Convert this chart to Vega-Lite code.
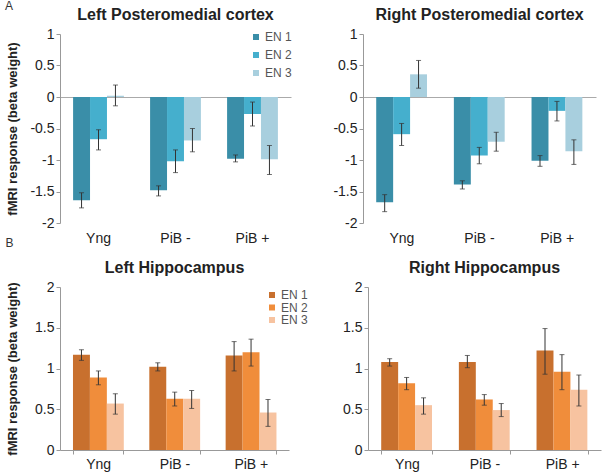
{
  "$schema": "https://vega.github.io/schema/vega-lite/v6.json",
  "padding": {"left": 5, "top": 0, "right": 4, "bottom": 2},
  "background": "white",
  "config": {
    "font": "Liberation Sans",
    "view": {"stroke": null},
    "title": {"fontSize": 16, "fontWeight": "bold", "color": "#222", "offset": 4},
    "axis": {"labelFontSize": 14, "labelColor": "#222", "domainColor": "#999", "tickColor": "#999", "grid": false, "titleFontSize": 13, "titleFontWeight": "bold", "titleColor": "#222", "labelOverlap": false},
    "legend": {"labelFontSize": 12, "labelColor": "#555", "symbolType": "square", "symbolSize": 36, "symbolStrokeWidth": 0, "labelOffset": 3, "title": null}
  },
  "data": {"values": [
    {"panel": "LP", "group": "Yng", "en": "EN 1", "value": -1.64, "lo": -1.76, "hi": -1.52},
    {"panel": "LP", "group": "Yng", "en": "EN 2", "value": -0.67, "lo": -0.84, "hi": -0.52},
    {"panel": "LP", "group": "Yng", "en": "EN 3", "value": 0.02, "lo": -0.14, "hi": 0.19},
    {"panel": "LP", "group": "PiB -", "en": "EN 1", "value": -1.48, "lo": -1.57, "hi": -1.41},
    {"panel": "LP", "group": "PiB -", "en": "EN 2", "value": -1.02, "lo": -1.2, "hi": -0.84},
    {"panel": "LP", "group": "PiB -", "en": "EN 3", "value": -0.69, "lo": -0.87, "hi": -0.5},
    {"panel": "LP", "group": "PiB +", "en": "EN 1", "value": -0.98, "lo": -1.03, "hi": -0.92},
    {"panel": "LP", "group": "PiB +", "en": "EN 2", "value": -0.27, "lo": -0.46, "hi": -0.08},
    {"panel": "LP", "group": "PiB +", "en": "EN 3", "value": -0.99, "lo": -1.23, "hi": -0.77},
    {"panel": "RP", "group": "Yng", "en": "EN 1", "value": -1.67, "lo": -1.82, "hi": -1.55},
    {"panel": "RP", "group": "Yng", "en": "EN 2", "value": -0.59, "lo": -0.77, "hi": -0.42},
    {"panel": "RP", "group": "Yng", "en": "EN 3", "value": 0.36, "lo": 0.14, "hi": 0.58},
    {"panel": "RP", "group": "PiB -", "en": "EN 1", "value": -1.39, "lo": -1.46, "hi": -1.33},
    {"panel": "RP", "group": "PiB -", "en": "EN 2", "value": -0.93, "lo": -1.06, "hi": -0.8},
    {"panel": "RP", "group": "PiB -", "en": "EN 3", "value": -0.71, "lo": -0.86, "hi": -0.56},
    {"panel": "RP", "group": "PiB +", "en": "EN 1", "value": -1.01, "lo": -1.1, "hi": -0.93},
    {"panel": "RP", "group": "PiB +", "en": "EN 2", "value": -0.22, "lo": -0.38, "hi": -0.07},
    {"panel": "RP", "group": "PiB +", "en": "EN 3", "value": -0.86, "lo": -1.07, "hi": -0.68},
    {"panel": "LH", "group": "Yng", "en": "EN 1", "value": 1.17, "lo": 1.1, "hi": 1.23},
    {"panel": "LH", "group": "Yng", "en": "EN 2", "value": 0.89, "lo": 0.8, "hi": 0.97},
    {"panel": "LH", "group": "Yng", "en": "EN 3", "value": 0.57, "lo": 0.44, "hi": 0.69},
    {"panel": "LH", "group": "PiB -", "en": "EN 1", "value": 1.02, "lo": 0.97, "hi": 1.07},
    {"panel": "LH", "group": "PiB -", "en": "EN 2", "value": 0.63, "lo": 0.54, "hi": 0.71},
    {"panel": "LH", "group": "PiB -", "en": "EN 3", "value": 0.63, "lo": 0.51, "hi": 0.73},
    {"panel": "LH", "group": "PiB +", "en": "EN 1", "value": 1.16, "lo": 0.97, "hi": 1.33},
    {"panel": "LH", "group": "PiB +", "en": "EN 2", "value": 1.2, "lo": 1.03, "hi": 1.36},
    {"panel": "LH", "group": "PiB +", "en": "EN 3", "value": 0.46, "lo": 0.29, "hi": 0.62},
    {"panel": "RH", "group": "Yng", "en": "EN 1", "value": 1.08, "lo": 1.03, "hi": 1.12},
    {"panel": "RH", "group": "Yng", "en": "EN 2", "value": 0.82, "lo": 0.74, "hi": 0.89},
    {"panel": "RH", "group": "Yng", "en": "EN 3", "value": 0.55, "lo": 0.44, "hi": 0.64},
    {"panel": "RH", "group": "PiB -", "en": "EN 1", "value": 1.08, "lo": 1.01, "hi": 1.16},
    {"panel": "RH", "group": "PiB -", "en": "EN 2", "value": 0.62, "lo": 0.55, "hi": 0.68},
    {"panel": "RH", "group": "PiB -", "en": "EN 3", "value": 0.49, "lo": 0.41, "hi": 0.57},
    {"panel": "RH", "group": "PiB +", "en": "EN 1", "value": 1.22, "lo": 0.93, "hi": 1.49},
    {"panel": "RH", "group": "PiB +", "en": "EN 2", "value": 0.96, "lo": 0.74, "hi": 1.17},
    {"panel": "RH", "group": "PiB +", "en": "EN 3", "value": 0.74, "lo": 0.54, "hi": 0.92}
  ]},
  "resolve": {"scale": {"color": "independent"}},
  "spacing": 12,
  "vconcat": [
    {
      "title": {"text": "A", "anchor": "start", "frame": "bounds", "fontSize": 12, "fontWeight": "normal", "color": "#333", "offset": -6},
      "spacing": 40,
      "resolve": {"scale": {"color": "independent"}},
      "hconcat": [
        {
          "width": 231, "height": 189,
          "title": "Left Posteromedial cortex",
          "transform": [{"filter": "datum.panel == 'LP'"}],
          "encoding": {
            "x": {"field": "group", "type": "nominal", "sort": ["Yng", "PiB -", "PiB +"], "scale": {"paddingInner": 0.34, "paddingOuter": 0.17}, "axis": {"title": "B", "titleX": -55, "titleY": 19, "titleAlign": "left", "titleBaseline": "middle", "titleFontWeight": "normal", "titleFontSize": 12, "titleColor": "#333", "labelAngle": 0, "domain": false, "ticks": false, "labelPadding": 8}},
            "xOffset": {"field": "en", "type": "nominal", "scale": {"paddingInner": 0, "paddingOuter": 0}}
          },
          "layer": [
            {"mark": {"type": "bar"}, "encoding": {
              "y": {"field": "value", "type": "quantitative", "scale": {"domain": [-2, 1], "nice": false}, "axis": {"title": "fMRI response (beta weight)", "titleX": -41, "tickCount": 7, "values": [-2, -1.5, -1, -0.5, 0, 0.5, 1], "labelExpr": "'' + datum.value", "tickSize": 4, "grid": true, "gridColor": "#aaa", "gridOpacity": {"condition": {"test": "datum.value == 0", "value": 1}, "value": 0}}},
              "color": {"field": "en", "type": "nominal", "scale": {"range": ["#3a8ea8", "#45afcd", "#a8cfde"]}, "legend": {"orient": "none", "legendX": 190, "legendY": -3, "rowPadding": 6}}
            }},
            {"mark": {"type": "rule", "color": "#333", "strokeWidth": 1}, "encoding": {"y": {"field": "lo", "type": "quantitative"}, "y2": {"field": "hi"}}},
            {"mark": {"type": "tick", "color": "#333", "thickness": 1, "size": 5}, "encoding": {"y": {"field": "lo", "type": "quantitative"}}},
            {"mark": {"type": "tick", "color": "#333", "thickness": 1, "size": 5}, "encoding": {"y": {"field": "hi", "type": "quantitative"}}}
          ]
        },
        {
          "width": 233, "height": 189,
          "title": "Right Posteromedial cortex",
          "transform": [{"filter": "datum.panel == 'RP'"}],
          "encoding": {
            "x": {"field": "group", "type": "nominal", "sort": ["Yng", "PiB -", "PiB +"], "scale": {"paddingInner": 0.34, "paddingOuter": 0.17}, "axis": {"title": null, "labelAngle": 0, "domain": false, "ticks": false, "labelPadding": 8}},
            "xOffset": {"field": "en", "type": "nominal", "scale": {"paddingInner": 0, "paddingOuter": 0}}
          },
          "layer": [
            {"mark": {"type": "bar"}, "encoding": {
              "y": {"field": "value", "type": "quantitative", "scale": {"domain": [-2, 1], "nice": false}, "axis": {"title": null, "tickCount": 7, "values": [-2, -1.5, -1, -0.5, 0, 0.5, 1], "labelExpr": "'' + datum.value", "tickSize": 4, "grid": true, "gridColor": "#aaa", "gridOpacity": {"condition": {"test": "datum.value == 0", "value": 1}, "value": 0}}},
              "color": {"field": "en", "type": "nominal", "scale": {"range": ["#3a8ea8", "#45afcd", "#a8cfde"]}, "legend": null}
            }},
            {"mark": {"type": "rule", "color": "#333", "strokeWidth": 1}, "encoding": {"y": {"field": "lo", "type": "quantitative"}, "y2": {"field": "hi"}}},
            {"mark": {"type": "tick", "color": "#333", "thickness": 1, "size": 5}, "encoding": {"y": {"field": "lo", "type": "quantitative"}}},
            {"mark": {"type": "tick", "color": "#333", "thickness": 1, "size": 5}, "encoding": {"y": {"field": "hi", "type": "quantitative"}}}
          ]
        }
      ]
    },
    {
      "spacing": 34,
      "resolve": {"scale": {"color": "independent"}},
      "hconcat": [
        {
          "width": 229, "height": 163,
          "title": "Left Hippocampus",
          "transform": [{"filter": "datum.panel == 'LH'"}],
          "encoding": {
            "x": {"field": "group", "type": "nominal", "sort": ["Yng", "PiB -", "PiB +"], "scale": {"paddingInner": 0.34, "paddingOuter": 0.17}, "axis": {"title": null, "labelAngle": 0, "tickBand": "extent", "tickSize": 4, "labelPadding": 3}},
            "xOffset": {"field": "en", "type": "nominal", "scale": {"paddingInner": 0, "paddingOuter": 0}}
          },
          "layer": [
            {"mark": {"type": "bar"}, "encoding": {
              "y": {"field": "value", "type": "quantitative", "scale": {"domain": [0, 2], "nice": false}, "axis": {"title": "fMRI response (beta weight)", "titleX": -41, "tickCount": 5, "values": [0, 0.5, 1, 1.5, 2], "labelExpr": "'' + datum.value", "tickSize": 4}},
              "color": {"field": "en", "type": "nominal", "scale": {"range": ["#c8702e", "#f08d3b", "#f7c3a0"]}, "legend": {"orient": "none", "legendX": 206, "legendY": 2, "rowPadding": 0.5}}
            }},
            {"mark": {"type": "rule", "color": "#333", "strokeWidth": 1}, "encoding": {"y": {"field": "lo", "type": "quantitative"}, "y2": {"field": "hi"}}},
            {"mark": {"type": "tick", "color": "#333", "thickness": 1, "size": 5}, "encoding": {"y": {"field": "lo", "type": "quantitative"}}},
            {"mark": {"type": "tick", "color": "#333", "thickness": 1, "size": 5}, "encoding": {"y": {"field": "hi", "type": "quantitative"}}}
          ]
        },
        {
          "width": 233, "height": 163,
          "title": "Right Hippocampus",
          "transform": [{"filter": "datum.panel == 'RH'"}],
          "encoding": {
            "x": {"field": "group", "type": "nominal", "sort": ["Yng", "PiB -", "PiB +"], "scale": {"paddingInner": 0.34, "paddingOuter": 0.17}, "axis": {"title": null, "labelAngle": 0, "tickBand": "extent", "tickSize": 4, "labelPadding": 3}},
            "xOffset": {"field": "en", "type": "nominal", "scale": {"paddingInner": 0, "paddingOuter": 0}}
          },
          "layer": [
            {"mark": {"type": "bar"}, "encoding": {
              "y": {"field": "value", "type": "quantitative", "scale": {"domain": [0, 2], "nice": false}, "axis": {"title": null, "tickCount": 5, "values": [0, 0.5, 1, 1.5, 2], "labelExpr": "'' + datum.value", "tickSize": 4}},
              "color": {"field": "en", "type": "nominal", "scale": {"range": ["#c8702e", "#f08d3b", "#f7c3a0"]}, "legend": null}
            }},
            {"mark": {"type": "rule", "color": "#333", "strokeWidth": 1}, "encoding": {"y": {"field": "lo", "type": "quantitative"}, "y2": {"field": "hi"}}},
            {"mark": {"type": "tick", "color": "#333", "thickness": 1, "size": 5}, "encoding": {"y": {"field": "lo", "type": "quantitative"}}},
            {"mark": {"type": "tick", "color": "#333", "thickness": 1, "size": 5}, "encoding": {"y": {"field": "hi", "type": "quantitative"}}}
          ]
        }
      ]
    }
  ]
}
